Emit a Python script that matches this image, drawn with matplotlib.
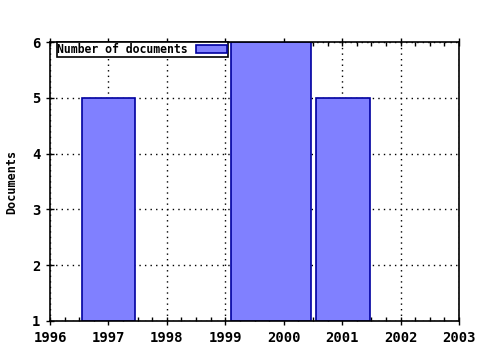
import matplotlib
matplotlib.use('Agg')
import matplotlib.pyplot as plt
from matplotlib.ticker import MultipleLocator

# Bar data (left edge, right edge, height)
bar_left = [1996.55, 1999.10, 2000.56]
bar_right = [1997.46, 2000.46, 2001.47]
docs = [5, 6, 5]
years = [1996, 1997, 1998, 1999, 2000, 2001, 2002, 2003]

plt.rcParams['font.family'] = 'DejaVu Sans Mono'
plt.rcParams['font.weight'] = 'bold'

fig = plt.figure(figsize=(4.8, 3.5), dpi=100)
ax = fig.add_axes([50 / 480, 1 - 321 / 350, 409 / 480, 279 / 350])

widths = [r - l for l, r in zip(bar_left, bar_right)]
ax.bar(bar_left, [d - 1 for d in docs], width=widths, bottom=1, align='edge',
       color='#8080ff', edgecolor='#0000a0', linewidth=1.2,
       label='Number of documents', zorder=2)

ax.set_xlim(1996, 2003)
ax.set_ylim(1, 6)
ax.set_xticks(years)
ax.set_xticklabels([str(y) for y in years], fontsize=10, fontweight='bold')
ax.xaxis.set_minor_locator(MultipleLocator(0.25))
ax.set_yticks([1, 2, 3, 4, 5, 6])
ax.set_yticklabels(['1', '2', '3', '4', '5', '6'], fontsize=10, fontweight='bold')

ax.tick_params(axis='x', which='major', direction='inout', length=6, width=1,
               top=True, pad=4)
ax.tick_params(axis='x', which='minor', direction='in', length=3, width=1, top=True)
ax.tick_params(axis='y', which='major', direction='inout', length=6, width=1,
               right=False, pad=4)

ax.grid(True, which='major', color='black', linestyle=(0, (1, 3)), linewidth=1.0, zorder=1)
ax.set_axisbelow(True)

for s in ax.spines.values():
    s.set_linewidth(1.2)

ax.set_ylabel('Documents', fontsize=8.5, fontweight='bold', labelpad=10)

leg = ax.legend(loc='upper left', bbox_to_anchor=(0.016, 1.0), frameon=True,
                fancybox=False, borderpad=0.08, handlelength=2.7, handleheight=0.6,
                handletextpad=0.7, borderaxespad=0.0, markerfirst=False,
                prop={'family': 'DejaVu Sans Mono', 'weight': 'bold', 'size': 8.3})
leg.get_frame().set_edgecolor('black')
leg.get_frame().set_linewidth(1.2)
leg.get_frame().set_alpha(1)
leg.set_zorder(5)

fig.savefig('out.png', dpi=100)
